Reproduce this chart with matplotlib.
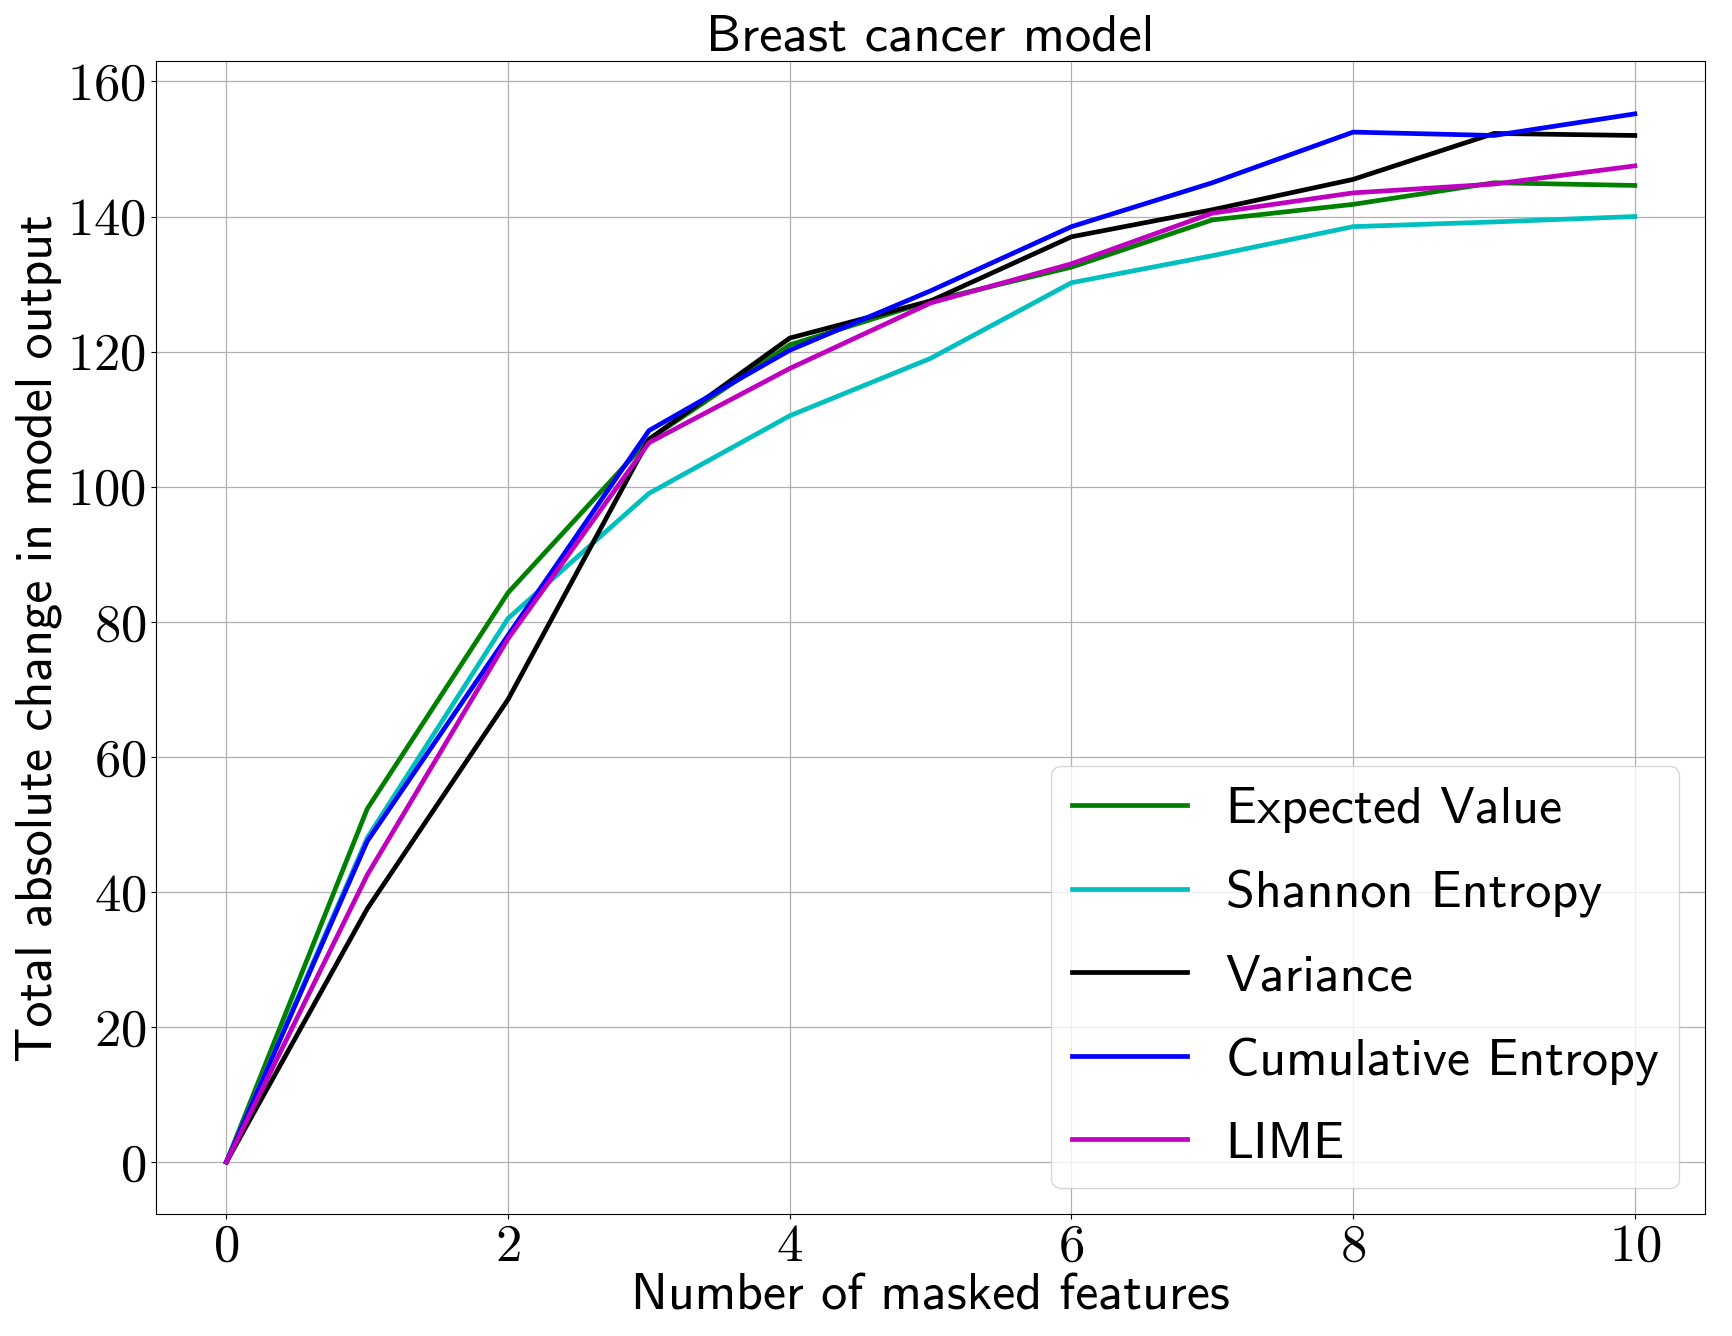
import matplotlib
matplotlib.use("Agg")
import matplotlib.pyplot as plt

masked = [0, 1, 2, 3, 4, 5, 6, 7, 8, 9, 10]
expected_value = [0, 52.3, 84.3, 107.0, 121.0, 127.5, 132.5, 139.5, 141.8, 145.0, 144.6]
shannon_entropy = [0, 48.0, 80.5, 99.0, 110.5, 119.0, 130.2, 134.2, 138.5, 139.2, 140.0]
variance = [0, 37.5, 68.5, 107.0, 122.0, 127.5, 137.0, 141.0, 145.5, 152.3, 152.0]
cumulative_entropy = [0, 47.5, 78.0, 108.3, 120.2, 129.0, 138.5, 145.0, 152.5, 152.0, 155.2]
lime = [0, 42.5, 77.5, 106.5, 117.5, 127.2, 133.0, 140.5, 143.5, 144.8, 147.5]

plt.rcParams['font.family'] = ['cmss10', 'DejaVu Sans']
plt.rcParams['axes.formatter.use_mathtext'] = True
plt.rcParams['mathtext.fontset'] = 'cm'

fig = plt.figure(figsize=(17.33, 13.36), dpi=100)
ax = fig.add_axes([0.090, 0.091, 0.894, 0.863])

lw = 3.4
ax.plot(masked, expected_value, color='g', lw=lw, label='Expected Value')
ax.plot(masked, shannon_entropy, color='c', lw=lw, label='Shannon Entropy')
ax.plot(masked, variance, color='k', lw=lw, label='Variance')
ax.plot(masked, cumulative_entropy, color='b', lw=lw, label='Cumulative Entropy')
ax.plot(masked, lime, color='m', lw=lw, label='LIME')

ax.grid(True, color='#b0b0b0', lw=0.9)
ax.set_xticks([0, 2, 4, 6, 8, 10])
ax.set_yticks([0, 20, 40, 60, 80, 100, 120, 140, 160])
for lab in ax.get_xticklabels() + ax.get_yticklabels():
    lab.set_fontfamily('cmr10')
ax.tick_params(labelsize=38)

ax.set_title('Breast cancer model', fontsize=38, pad=8)
ax.set_xlabel('Number of masked features', fontsize=37.5, labelpad=2)
ax.set_ylabel('Total absolute change in model output', fontsize=37.5, labelpad=4)

ax.legend(loc='lower right', fontsize=37.5, handlelength=2.2, handletextpad=0.75,
          labelspacing=0.7)

fig.savefig('out.png', dpi=100)
